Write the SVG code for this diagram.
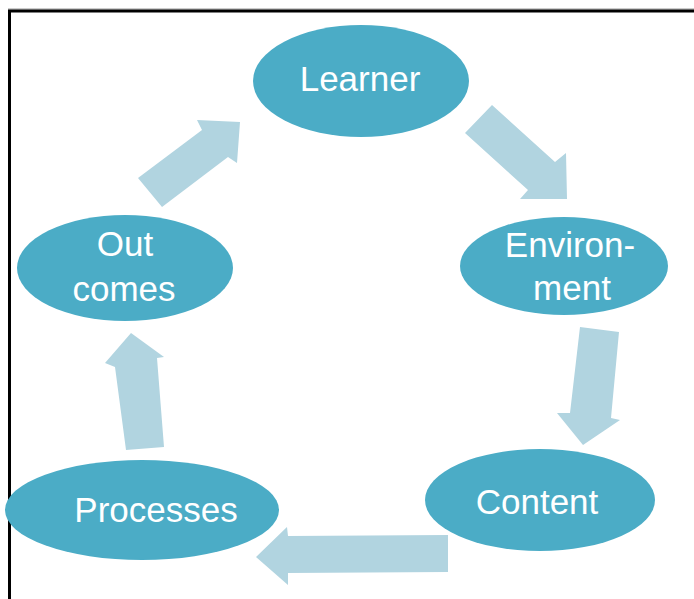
<svg xmlns="http://www.w3.org/2000/svg" width="694" height="599" viewBox="0 0 694 599">
<style>
.node ellipse{fill:#4bacc6;}
.node text{fill:#ffffff;font-family:"Liberation Sans",Arial,sans-serif;font-size:35px;text-anchor:middle;}
.arrow{fill:#b1d4e0;}
</style>
<rect x="0" y="0" width="694" height="599" fill="#ffffff"/>
<line x1="8" y1="9" x2="694" y2="9" stroke="#999999" stroke-width="1"/>
<rect x="9.5" y="11" width="700" height="600" fill="none" stroke="#000000" stroke-width="3"/>
<g id="connectors">
<polygon class="arrow" points="492,105 555,162 566,153 567,199 520,199 528,190 465,133"/>
<polygon class="arrow" points="580,327 619,332 611,418 620,420 583,445 557,413 570,413"/>
<polygon class="arrow" points="448,535 448,572 288,573 288,585 256,557 287,527 288,536"/>
<polygon class="arrow" points="164,447 126,450 115,367 105,363 131,333 164,357 157,358"/>
<polygon class="arrow" points="138,178 202,130 197,120 240,122 237,163 228,157 162,207"/>
</g>
<g id="learner" class="node">
<ellipse cx="361" cy="81" rx="108" ry="56"/>
<text x="360" y="91">Learner</text>
</g>
<g id="environment" class="node">
<ellipse cx="564" cy="266" rx="104" ry="49"/>
<text x="570" y="257">Environ-</text>
<text x="572" y="300">ment</text>
</g>
<g id="content" class="node">
<ellipse cx="540" cy="500" rx="115" ry="51"/>
<text x="537" y="514">Content</text>
</g>
<g id="processes" class="node">
<ellipse cx="142" cy="510" rx="137" ry="50"/>
<text x="156" y="522">Processes</text>
</g>
<g id="outcomes" class="node">
<ellipse cx="125" cy="268" rx="108" ry="53"/>
<text x="125" y="256">Out</text>
<text x="124" y="301">comes</text>
</g>
</svg>
